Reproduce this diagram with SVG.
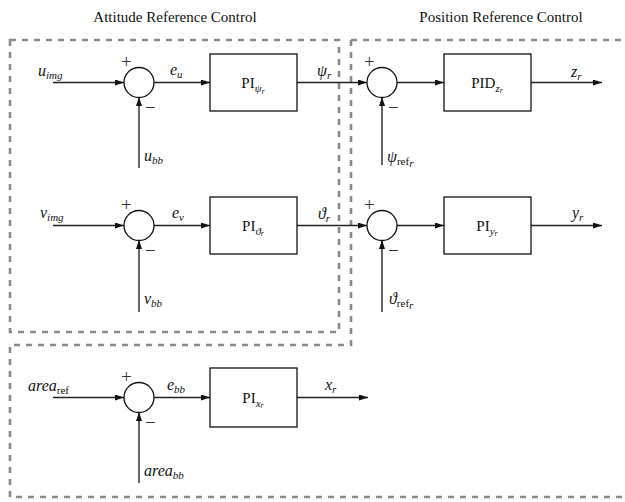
<svg xmlns="http://www.w3.org/2000/svg" width="625" height="502" viewBox="0 0 625 502">
<defs>
<marker id="ah" markerWidth="9" markerHeight="6" refX="9" refY="3" orient="auto" markerUnits="userSpaceOnUse">
<path d="M0,0 L9,3 L0,6 Z" fill="#111"/>
</marker>
<style>
.t{font-family:"Liberation Serif","Times New Roman",serif;font-size:15px;fill:#111}
.m{font-family:"Liberation Serif","Times New Roman",serif;font-size:16px;font-style:italic;fill:#111}
.s{font-size:11px}
.r{font-style:normal}
.dash{fill:none;stroke:#8a8a8a;stroke-width:2.6;stroke-dasharray:6 6}
.h{stroke:#222;stroke-width:1.3;fill:none}
.v{stroke:#666;stroke-width:2;fill:none}
.sum{fill:#fff;stroke:#111;stroke-width:1.3}
.box{fill:#fff;stroke:#111;stroke-width:1.3}
.sg{font-family:"Liberation Serif","Times New Roman",serif;font-size:19px;fill:#333}
</style>
</defs>
<text class="t" x="175" y="22" text-anchor="middle">Attitude Reference Control</text>
<text class="t" x="501" y="22" text-anchor="middle">Position Reference Control</text>
<g id="groups">
<rect class="dash" x="10" y="40" width="329" height="292"/>
<path class="dash" d="M351,40 H630 M351,40 V345 H10 V497 H630"/>
</g>
<g id="connectors">
<line class="h" x1="53" y1="82.5" x2="124" y2="82.5" marker-end="url(#ah)"/>
<line class="v" x1="139" y1="168" x2="139" y2="97" marker-end="url(#ah)"/>
<line class="h" x1="154" y1="82.5" x2="210" y2="82.5" marker-end="url(#ah)"/>
<line class="h" x1="297" y1="82.5" x2="367" y2="82.5" marker-end="url(#ah)"/>
<line class="v" x1="382" y1="165" x2="382" y2="97" marker-end="url(#ah)"/>
<line class="h" x1="397" y1="82.5" x2="444" y2="82.5" marker-end="url(#ah)"/>
<line class="h" x1="531" y1="82.5" x2="602" y2="82.5" marker-end="url(#ah)"/>
<line class="h" x1="53" y1="225.5" x2="124" y2="225.5" marker-end="url(#ah)"/>
<line class="v" x1="139" y1="312" x2="139" y2="240" marker-end="url(#ah)"/>
<line class="h" x1="154" y1="225.5" x2="210" y2="225.5" marker-end="url(#ah)"/>
<line class="h" x1="297" y1="225.5" x2="367" y2="225.5" marker-end="url(#ah)"/>
<line class="v" x1="382" y1="312" x2="382" y2="240" marker-end="url(#ah)"/>
<line class="h" x1="397" y1="225.5" x2="444" y2="225.5" marker-end="url(#ah)"/>
<line class="h" x1="531" y1="225.5" x2="602" y2="225.5" marker-end="url(#ah)"/>
<line class="h" x1="53" y1="397.5" x2="124" y2="397.5" marker-end="url(#ah)"/>
<line class="v" x1="139" y1="483" x2="139" y2="412" marker-end="url(#ah)"/>
<line class="h" x1="154" y1="397.5" x2="210" y2="397.5" marker-end="url(#ah)"/>
<line class="h" x1="297" y1="397.5" x2="368" y2="397.5" marker-end="url(#ah)"/>
</g>
<g id="sum1"><circle class="sum" cx="139" cy="82.5" r="15"/><text class="sg" x="121" y="68">+</text><text class="sg" x="145" y="114">−</text></g>
<g id="sum2"><circle class="sum" cx="382" cy="82.5" r="15"/><text class="sg" x="364" y="68">+</text><text class="sg" x="388" y="114">−</text></g>
<g id="sum3"><circle class="sum" cx="139" cy="225.5" r="15"/><text class="sg" x="121" y="211">+</text><text class="sg" x="145" y="257">−</text></g>
<g id="sum4"><circle class="sum" cx="382" cy="225.5" r="15"/><text class="sg" x="364" y="211">+</text><text class="sg" x="388" y="257">−</text></g>
<g id="sum5"><circle class="sum" cx="139" cy="397.5" r="15"/><text class="sg" x="121" y="383">+</text><text class="sg" x="145" y="429">−</text></g>
<g id="pi_psi"><rect class="box" x="210" y="54" width="87" height="57"/><text class="t" x="253" y="88" text-anchor="middle" font-size="16">PI<tspan class="m s" dy="4">ψ<tspan font-size="8" dy="2">r</tspan></tspan></text></g>
<g id="pid_z"><rect class="box" x="444" y="54" width="87" height="57"/><text class="t" x="487" y="88" text-anchor="middle" font-size="16">PID<tspan class="m s" dy="4">z<tspan font-size="8" dy="1">r</tspan></tspan></text></g>
<g id="pi_theta"><rect class="box" x="210" y="197" width="87" height="57"/><text class="t" x="253" y="231" text-anchor="middle" font-size="16">PI<tspan class="m s" dy="4">ϑ<tspan font-size="8" dy="1">r</tspan></tspan></text></g>
<g id="pi_y"><rect class="box" x="444" y="197" width="87" height="57"/><text class="t" x="487" y="231" text-anchor="middle" font-size="16">PI<tspan class="m s" dy="4">y<tspan font-size="8" dy="1">r</tspan></tspan></text></g>
<g id="pi_x"><rect class="box" x="210" y="368" width="87" height="59"/><text class="t" x="253" y="403" text-anchor="middle" font-size="16">PI<tspan class="m s" dy="4">x<tspan font-size="8" dy="1">r</tspan></tspan></text></g>
<g id="labels">
<text class="m" x="38" y="76">u<tspan class="s" dy="3">img</tspan></text>
<text class="m" x="144" y="161">u<tspan class="s" dy="3">bb</tspan></text>
<text class="m" x="170" y="75">e<tspan class="s" dy="3">u</tspan></text>
<text class="m" x="317" y="76">ψ<tspan class="s" dy="3">r</tspan></text>
<text class="m" x="387" y="162">ψ<tspan class="s r" dy="3">ref</tspan><tspan class="s" font-size="8" dy="2">r</tspan></text>
<text class="m" x="571" y="77">z<tspan class="s" dy="3">r</tspan></text>
<text class="m" x="40" y="218">v<tspan class="s" dy="3">img</tspan></text>
<text class="m" x="144" y="304">v<tspan class="s" dy="3">bb</tspan></text>
<text class="m" x="172" y="218">e<tspan class="s" dy="3">v</tspan></text>
<text class="m" x="318" y="219">ϑ<tspan class="s" dy="3">r</tspan></text>
<text class="m" x="389" y="304">ϑ<tspan class="s r" dy="3">ref</tspan><tspan class="s" font-size="8" dy="2">r</tspan></text>
<text class="m" x="572" y="218">y<tspan class="s" dy="3">r</tspan></text>
<text class="m" x="28" y="391">area<tspan class="s r" dy="3" font-size="13">ref</tspan></text>
<text class="m" x="144" y="476">area<tspan class="s" dy="3" font-size="13">bb</tspan></text>
<text class="m" x="167" y="390">e<tspan class="s" dy="3">bb</tspan></text>
<text class="m" x="325" y="390">x<tspan class="s" dy="3">r</tspan></text>
</g>
</svg>
